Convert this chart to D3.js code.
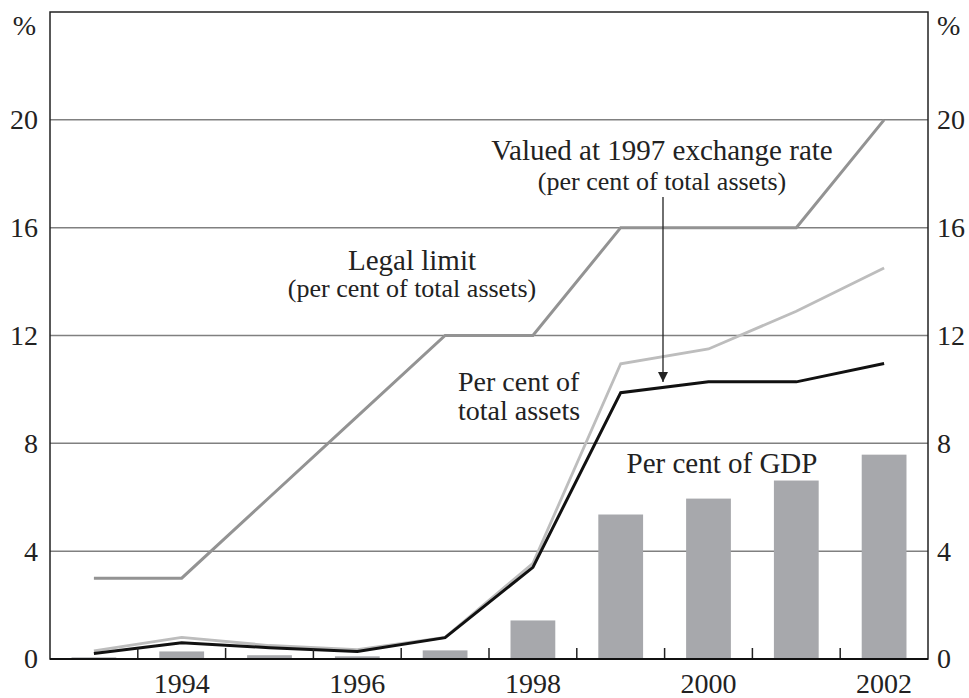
<!DOCTYPE html>
<html>
<head>
<meta charset="utf-8">
<script src="https://cdn.jsdelivr.net/npm/d3@7"></script>
<style>
	body { margin: 0; background: #fff; }
	svg { display: block; font-family: 'Liberation Serif', 'Times New Roman', serif; }
</style>
</head>
<body>
<svg id="chart" width="969" height="698"></svg>
<script>
const years = [1993, 1994, 1995, 1996, 1997, 1998, 1999, 2000, 2001, 2002];
const legalLimit = [3, 3, 6, 9, 12, 12, 16, 16, 16, 20];
const pctAssets1997Rate = [0.3, 0.8, 0.5, 0.35, 0.8, 3.55, 10.95, 11.5, 12.9, 14.5];
const pctAssets = [0.2, 0.6, 0.42, 0.28, 0.79, 3.4, 9.88, 10.28, 10.28, 10.96];
const pctGdp = [0.06, 0.28, 0.14, 0.1, 0.32, 1.43, 5.36, 5.95, 6.62, 7.58];
const yTicks = [0, 4, 8, 12, 16, 20];
const xLabels = [1994, 1996, 1998, 2000, 2002];

const margin = { top: 12, right: 41, bottom: 39, left: 50 };
const width = 969, height = 698;
const tickFont = 28;

const svg = d3.select('#chart');

const x = d3.scaleBand()
	.domain(years)
	.range([margin.left, width - margin.right]);
const y = d3.scaleLinear()
	.domain([0, 24])
	.range([height - margin.bottom, margin.top]);
const cx = (yr) => x(yr) + x.bandwidth() / 2;

// gridlines
svg.append('g')
	.selectAll('line')
	.data(yTicks.filter((d) => d > 0))
	.enter().append('line')
	.attr('x1', margin.left)
	.attr('x2', width - margin.right)
	.attr('y1', (d) => y(d))
	.attr('y2', (d) => y(d))
	.attr('stroke', '#808080')
	.attr('stroke-width', 1.5);

// bars
const barW = x.bandwidth() * 0.51;
svg.append('g')
	.selectAll('rect')
	.data(years)
	.enter().append('rect')
	.attr('x', (d) => cx(d) - barW / 2)
	.attr('width', barW)
	.attr('y', (d, i) => y(pctGdp[i]))
	.attr('height', (d, i) => y(0) - y(pctGdp[i]))
	.attr('fill', '#a7a8ac');

function drawLine(values, color, w) {
	const line = d3.line()
		.x((d, i) => cx(years[i]))
		.y((d) => y(d));
	svg.append('path')
		.attr('d', line(values))
		.attr('fill', 'none')
		.attr('stroke', color)
		.attr('stroke-width', w)
		.attr('stroke-linejoin', 'miter');
}

drawLine(legalLimit, '#939393', 3);
drawLine(pctAssets1997Rate, '#bdbdbd', 2.8);
drawLine(pctAssets, '#111', 3);

// arrow
svg.append('defs').append('marker')
	.attr('id', 'arrowhead')
	.attr('viewBox', '0 0 10 10')
	.attr('refX', 10)
	.attr('refY', 5)
	.attr('markerWidth', 10)
	.attr('markerHeight', 10)
	.attr('markerUnits', 'userSpaceOnUse')
	.attr('orient', 'auto')
	.append('path')
	.attr('d', 'M0,0 L10,5 L0,10 Z')
	.attr('fill', '#222');
svg.append('line')
	.attr('x1', 663).attr('x2', 663)
	.attr('y1', 197).attr('y2', 382)
	.attr('stroke', '#222')
	.attr('stroke-width', 1.3)
	.attr('marker-end', 'url(#arrowhead)');

// axes
const yLeft = svg.append('g')
	.attr('transform', `translate(${margin.left},0)`)
	.call(d3.axisLeft(y).tickValues(yTicks).tickSize(0).tickPadding(12));
const yRight = svg.append('g')
	.attr('transform', `translate(${width - margin.right},0)`)
	.call(d3.axisRight(y).tickValues(yTicks).tickSize(0).tickPadding(9));
const xAxis = svg.append('g')
	.attr('transform', `translate(0,${y(0)})`)
	.call(d3.axisBottom(x).tickValues(xLabels).tickSize(0).tickPadding(14));
[yLeft, yRight, xAxis].forEach((g) => {
	g.attr('font-family', null).attr('font-size', tickFont);
	g.select('.domain').remove();
	g.selectAll('text').attr('fill', '#222');
});

// boundary ticks
svg.append('g')
	.selectAll('line')
	.data(years.slice(1))
	.enter().append('line')
	.attr('x1', (d) => x(d))
	.attr('x2', (d) => x(d))
	.attr('y1', y(0))
	.attr('y2', y(0) - 11)
	.attr('stroke', '#222')
	.attr('stroke-width', 1.5);

// frame
svg.append('rect')
	.attr('x', margin.left)
	.attr('y', margin.top)
	.attr('width', width - margin.left - margin.right)
	.attr('height', y(0) - margin.top)
	.attr('fill', 'none')
	.attr('stroke', '#222')
	.attr('stroke-width', 1.5);
svg.append('line')
	.attr('x1', margin.left).attr('x2', width - margin.right)
	.attr('y1', y(0)).attr('y2', y(0))
	.attr('stroke', '#111')
	.attr('stroke-width', 2.2);

// unit labels
svg.append('text').attr('x', 36).attr('y', 35).attr('text-anchor', 'end')
	.attr('font-size', tickFont).attr('fill', '#222').text('%');
svg.append('text').attr('x', 937).attr('y', 35)
	.attr('font-size', tickFont).attr('fill', '#222').text('%');

// annotations
function label(xp, yp, txt, size, anchor) {
	svg.append('text')
		.attr('x', xp).attr('y', yp)
		.attr('text-anchor', anchor || 'middle')
		.attr('font-size', size)
		.attr('fill', '#222')
		.text(txt);
}
label(412, 270, 'Legal limit', 29);
label(412, 297, '(per cent of total assets)', 26);
label(662, 160, 'Valued at 1997 exchange rate', 29);
label(662, 190, '(per cent of total assets)', 26);
label(458, 391, 'Per cent of', 28, 'start');
label(458, 420, 'total assets', 28, 'start');
label(722, 473, 'Per cent of GDP', 29);
</script>
</body>
</html>
